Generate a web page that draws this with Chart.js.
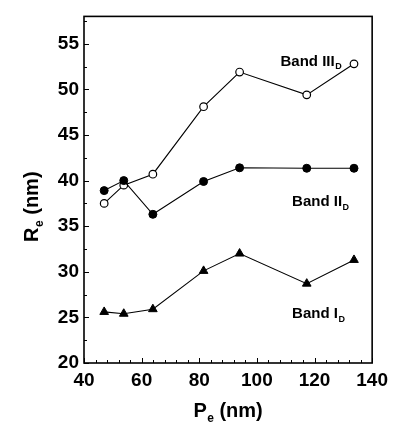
<!DOCTYPE html>
<html>
<head>
<meta charset="utf-8">
<script src="https://cdn.jsdelivr.net/npm/chart.js@4/dist/chart.umd.min.js"></script>
<style>
  html, body { margin: 0; padding: 0; background: #fff; }
  #wrap { width: 394px; height: 424px; position: relative; }
</style>
</head>
<body>
<div id="wrap"><canvas id="grafico"></canvas></div>
<script>
// datos
const pe = [47.0, 53.8, 63.9, 81.5, 94.0, 117.3, 133.7];
const bandaI = [25.6, 25.4, 25.9, 30.1, 32.0, 28.7, 31.3];
const bandaII = [38.9, 40.0, 36.3, 39.9, 41.4, 41.35, 41.35];
const bandaIII = [37.5, 39.5, 40.7, 48.1, 51.9, 49.4, 52.8];

const ticksX = [40, 60, 80, 100, 120, 140];
const ticksY = [20, 25, 30, 35, 40, 45, 50, 55];

const FUENTE = '"Liberation Sans", Arial, Helvetica, sans-serif';

function puntos(ys) {
    return pe.map((x, i) => ({ x: x, y: ys[i] }));
}

// rotulos de las curvas (texto, subindice, posicion en unidades de datos)
const rotulos = [
    { txt: 'Band III', sub: 'D', x: 108.2, y: 52.6 },
    { txt: 'Band II', sub: 'D', x: 112.2, y: 37.2 },
    { txt: 'Band I', sub: 'D', x: 112.2, y: 24.9 }
];

// texto con subindice, devuelve ancho
function textoSub(ctx, base, sub, resto, x, y, size) {
    ctx.font = `bold ${size}px ${FUENTE}`;
    ctx.fillText(base, x, y);
    let w = ctx.measureText(base).width;
    const subSize = Math.round(size * 0.62);
    ctx.font = `bold ${subSize}px ${FUENTE}`;
    ctx.fillText(sub, x + w + 0.5, y + size * 0.25);
    w += ctx.measureText(sub).width + 0.5;
    if (resto) {
        ctx.font = `bold ${size}px ${FUENTE}`;
        ctx.fillText(resto, x + w, y);
        w += ctx.measureText(resto).width;
    }
    return w;
}

function anchoSub(ctx, base, sub, resto, size) {
    ctx.font = `bold ${size}px ${FUENTE}`;
    let w = ctx.measureText(base).width + ctx.measureText(resto || '').width;
    ctx.font = `bold ${Math.round(size * 0.62)}px ${FUENTE}`;
    return w + ctx.measureText(sub).width + 0.5;
}

const marco = {
    id: 'marco',
    afterDraw(chart) {
        const ctx = chart.ctx;
        const a = chart.chartArea;
        const sx = chart.scales.x, sy = chart.scales.y;
        ctx.save();
        ctx.strokeStyle = '#000';
        ctx.fillStyle = '#000';

        // marcas hacia dentro
        ctx.lineWidth = 1;
        ctx.beginPath();
        for (let v = 40; v <= 140; v += 4) {
            const px = Math.round(sx.getPixelForValue(v)) + 0.5;
            const len = (v - 40) % 20 === 0 ? 5 : 3;
            ctx.moveTo(px, a.bottom);
            ctx.lineTo(px, a.bottom - len);
        }
        for (let v = 20; v <= 57.5; v += 2.5) {
            const py = Math.round(sy.getPixelForValue(v)) + 0.5;
            const len = v % 5 === 0 ? 5 : 3;
            ctx.moveTo(a.left, py);
            ctx.lineTo(a.left + len, py);
        }
        ctx.stroke();

        // caja
        ctx.lineWidth = 1.6;
        ctx.strokeRect(a.left, a.top, a.right - a.left, a.bottom - a.top);

        // rotulos de bandas
        ctx.textAlign = 'left';
        ctx.textBaseline = 'alphabetic';
        rotulos.forEach(r => {
            textoSub(ctx, r.txt, r.sub, '', sx.getPixelForValue(r.x), sy.getPixelForValue(r.y), 15);
        });

        // titulo eje x
        const cx = (a.left + a.right) / 2;
        const wx = anchoSub(ctx, 'P', 'e', ' (nm)', 20);
        textoSub(ctx, 'P', 'e', ' (nm)', cx - wx / 2, 417, 20);

        // titulo eje y
        const cy = (a.top + a.bottom) / 2 + 17;
        const wy = anchoSub(ctx, 'R', 'e', ' (nm)', 20);
        ctx.translate(38, cy);
        ctx.rotate(-Math.PI / 2);
        textoSub(ctx, 'R', 'e', ' (nm)', -wy / 2, 0, 20);

        ctx.restore();
    }
};

new Chart(document.getElementById('grafico'), {
    type: 'scatter',
    data: {
        datasets: [
            {
                label: 'Band II',
                data: puntos(bandaII),
                showLine: true,
                borderColor: '#000',
                borderWidth: 1.1,
                pointStyle: 'circle',
                pointRadius: 4,
                pointBackgroundColor: '#000',
                pointBorderColor: '#000',
                pointBorderWidth: 1
            },
            {
                label: 'Band III',
                data: puntos(bandaIII),
                showLine: true,
                borderColor: '#000',
                borderWidth: 1.1,
                pointStyle: 'circle',
                pointRadius: 3.8,
                pointBackgroundColor: '#fff',
                pointBorderColor: '#000',
                pointBorderWidth: 1.2
            },
            {
                label: 'Band I',
                data: puntos(bandaI),
                showLine: true,
                borderColor: '#000',
                borderWidth: 1.1,
                pointStyle: 'triangle',
                pointRadius: 5,
                pointBackgroundColor: '#000',
                pointBorderColor: '#000',
                pointBorderWidth: 1
            }
        ]
    },
    options: {
        responsive: true,
        maintainAspectRatio: false,
        animation: false,
        layout: { padding: { top: 14, right: 20, left: 0, bottom: 0 } },
        plugins: { legend: { display: false }, tooltip: { enabled: false } },
        scales: {
            x: {
                type: 'linear',
                min: 40,
                max: 140,
                afterBuildTicks: s => { s.ticks = ticksX.map(v => ({ value: v })); },
                afterFit: s => { s.height = 61; },
                grid: { display: false, drawTicks: false },
                border: { display: false },
                ticks: {
                    color: '#000',
                    padding: 6,
                    maxRotation: 0,
                    font: { family: FUENTE, size: 19, weight: 'bold' }
                }
            },
            y: {
                type: 'linear',
                min: 20,
                max: 58,
                afterBuildTicks: s => { s.ticks = ticksY.map(v => ({ value: v })); },
                afterFit: s => { s.width = 84; },
                grid: { display: false, drawTicks: false },
                border: { display: false },
                ticks: {
                    color: '#000',
                    padding: 5,
                    font: { family: FUENTE, size: 19, weight: 'bold' }
                }
            }
        }
    },
    plugins: [marco]
});
</script>
</body>
</html>
